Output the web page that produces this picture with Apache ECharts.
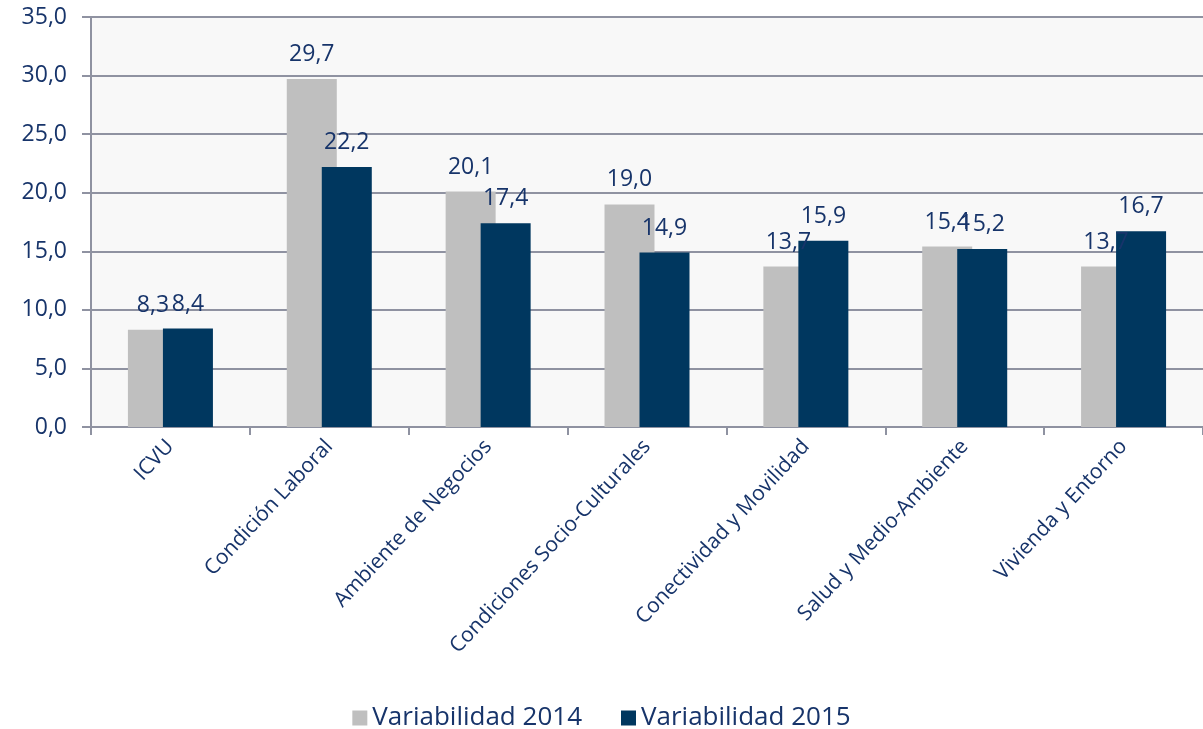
<!DOCTYPE html>
<html>
<head>
<meta charset="utf-8">
<script src="https://cdn.jsdelivr.net/npm/echarts@6/dist/echarts.min.js"></script>
<style>
  html, body { margin: 0; padding: 0; background: #fff; }
  #main { width: 1203px; height: 729px; }
</style>
</head>
<body>
<div id="main"></div>
<script>
var categories = ['ICVU', 'Condición Laboral', 'Ambiente de Negocios', 'Condiciones Socio-Culturales',
                  'Conectividad y Movilidad', 'Salud y Medio-Ambiente', 'Vivienda y Entorno'];
var seriesNames = ['Variabilidad 2014', 'Variabilidad 2015'];
var var2014 = [8.3, 29.7, 20.1, 19.0, 13.7, 15.4, 13.7];
var var2015 = [8.4, 22.2, 17.4, 14.9, 15.9, 15.2, 16.7];

var textColor = '#17346a';
var lineColor = '#8f92a1';
var font = 'Open Sans';

function fmt(v) {
    return v.toFixed(1).replace('.', ',');
}

var myChart = echarts.init(document.getElementById('main'));
var option = {
    animation: false,
    textStyle: { fontFamily: font },
    legend: {
        top: 700,
        left: 'center',
        itemWidth: 15,
        itemHeight: 15,
        itemGap: 39,
        icon: 'rect',
        textStyle: { color: textColor, fontSize: 26, fontFamily: font },
        data: seriesNames
    },
    grid: {
        left: 91,
        right: -5,
        top: 17,
        bottom: 302,
        show: true,
        backgroundColor: '#f8f8f8',
        borderWidth: 0
    },
    xAxis: {
        type: 'category',
        data: categories,
        axisLine: { lineStyle: { color: lineColor, width: 2 } },
        axisTick: { show: true, length: 8, lineStyle: { color: lineColor, width: 2 } },
        axisLabel: {
            interval: 0,
            rotate: 47,
            margin: 16,
            color: textColor,
            fontSize: 21,
            fontFamily: font
        }
    },
    yAxis: {
        type: 'value',
        min: 0,
        max: 35,
        interval: 5,
        axisLine: { show: true, lineStyle: { color: lineColor, width: 2 } },
        axisTick: { show: true, length: 9, lineStyle: { color: lineColor, width: 2 } },
        splitLine: { lineStyle: { color: lineColor, width: 2 } },
        axisLabel: {
            margin: 24,
            color: textColor,
            fontSize: 23,
            fontFamily: font,
            formatter: fmt
        }
    },
    series: [
        {
            name: seriesNames[0],
            type: 'bar',
            barWidth: 50,
            barGap: '-30%',
            itemStyle: { color: '#bfbfbf' },
            label: {
                show: true,
                position: 'top',
                distance: 13,
                color: textColor,
                fontSize: 23,
                fontFamily: font,
                formatter: function (p) { return fmt(p.value); }
            },
            data: var2014
        },
        {
            name: seriesNames[1],
            type: 'bar',
            barWidth: 50,
            barGap: '-30%',
            itemStyle: { color: '#00375f' },
            label: {
                show: true,
                position: 'top',
                distance: 13,
                color: textColor,
                fontSize: 23,
                fontFamily: font,
                formatter: function (p) { return fmt(p.value); }
            },
            data: var2015
        }
    ]
};
myChart.setOption(option);

window.onresize = function () {
    myChart.resize();
};
</script>
</body>
</html>
